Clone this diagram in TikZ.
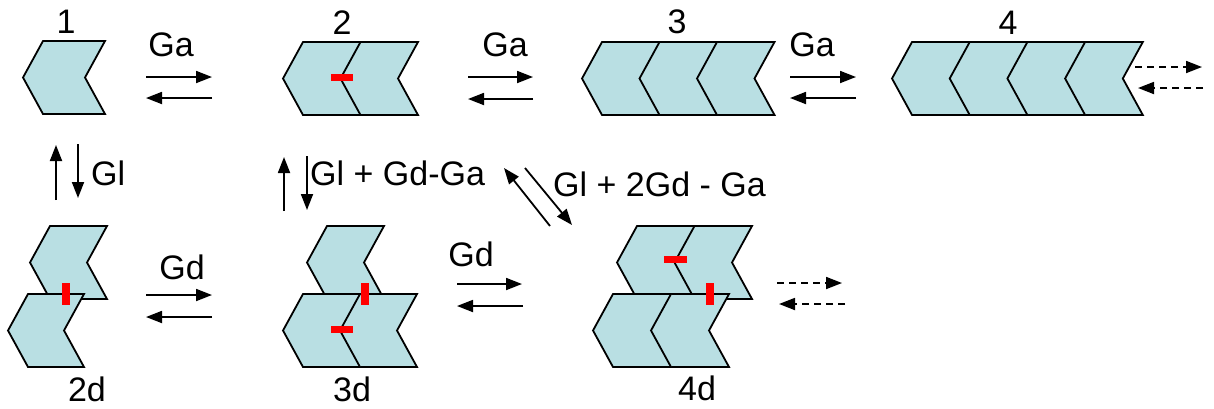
\documentclass[tikz,border=0pt]{standalone}
\usepackage{fontspec}
\setmainfont{Liberation Sans}
\usepackage{tikz}
\usetikzlibrary{arrows.meta}
\definecolor{ChevBlue}{HTML}{B9DFE3}
\definecolor{BondRed}{HTML}{FF0000}

% strip of chevrons: x of top-left corner, y of top edge, count, unit width
\newcommand{\chevstrip}[4]{%
  \filldraw[chev] (#1,#2) -- ({#1+#3*#4},#2) -- ({#1+#3*#4-20},{#2+36.5})
    -- ({#1+#3*#4},{#2+73}) -- (#1,{#2+73}) -- ({#1-20},{#2+36.5}) -- cycle;
  \ifnum#3>1
    \foreach \k in {2,...,#3}
      \draw[chev] ({#1+(\k-1)*#4},#2) -- ({#1+(\k-1)*#4-20},{#2+36.5}) -- ({#1+(\k-1)*#4},{#2+73});
  \fi}

\begin{document}
\begin{tikzpicture}[
    x=1pt, y=-1pt,
    chev/.style={draw=black, fill=ChevBlue, line width=1.8pt, line join=miter},
    bond/.style={fill=BondRed, draw=none},
    lbl/.style={inner sep=0pt, font=\fontsize{34}{38}\selectfont},
    rxn/.style={-{Triangle[length=16pt, width=12pt]}, line width=1.8pt},
    more/.style={rxn, dash pattern=on 7pt off 5pt}
]
\useasboundingbox (0,0) rectangle (1214,408);

% Top row: linear chains
\chevstrip{43}{41}{1}{62}
\chevstrip{303}{42}{2}{57.5}
\chevstrip{602}{42}{3}{57.5}
\chevstrip{912}{42}{4}{57.7}
\fill[bond] (331,74) rectangle (353,81);

\node[lbl] (n1) at (66,22) {1};
\node[lbl] (n2) at (342,23) {2};
\node[lbl] (n3) at (677,22) {3};
\node[lbl] (n4) at (1008,23) {4};

% Bottom row: stacked chains
\chevstrip{50}{226}{1}{57}
\chevstrip{28}{294}{1}{56}
\fill[bond] (62,283) rectangle (70,305);

\chevstrip{327}{226}{1}{57}
\chevstrip{303}{294}{2}{57}
\fill[bond] (361,283) rectangle (369,305);
\fill[bond] (331,326) rectangle (353,333);

\chevstrip{637}{226}{2}{57.5}
\chevstrip{613}{294}{2}{58}
\fill[bond] (664,256) rectangle (687,263);
\fill[bond] (706,283) rectangle (714,305);

\node[lbl] (n2d) at (87,389) {2d};
\node[lbl] (n3d) at (352,389) {3d};
\node[lbl] (n4d) at (697,388) {4d};

% Ga steps
\node[lbl] (ga1) at (171,45) {Ga};
\node[lbl] (ga2) at (505,45) {Ga};
\node[lbl] (ga3) at (812,45) {Ga};
\coordinate (a1l) at (146,77);  \coordinate (a1r) at (212,77);
\coordinate (b1l) at (146,98);  \coordinate (b1r) at (212,98);
\coordinate (a2l) at (468,77);  \coordinate (a2r) at (533,77);
\coordinate (b2l) at (468,99);  \coordinate (b2r) at (533,99);
\coordinate (a3l) at (790,77);  \coordinate (a3r) at (856,77);
\coordinate (b3l) at (790,98);  \coordinate (b3r) at (856,98);
\draw[rxn] (a1l) -- (a1r);
\draw[rxn] (b1r) -- (b1l);
\draw[rxn] (a2l) -- (a2r);
\draw[rxn] (b2r) -- (b2l);
\draw[rxn] (a3l) -- (a3r);
\draw[rxn] (b3r) -- (b3l);
\coordinate (a4l) at (1135,67); \coordinate (a4r) at (1202,67);
\coordinate (b4l) at (1138,88); \coordinate (b4r) at (1203,88);
\draw[more] (a4l) -- (a4r);
\draw[more] (b4r) -- (b4l);

% Gl steps
\node[lbl, anchor=west] (gl1) at (91,173) {Gl};
\node[lbl, anchor=west] (gl2) at (310,173) {Gl + Gd-Ga};
\node[lbl, anchor=west] (gl3) at (553,184) {Gl + 2Gd - Ga};
\coordinate (u1b) at (56,200);  \coordinate (u1t) at (56,145);
\coordinate (d1t) at (78,144);  \coordinate (d1b) at (78,198);
\coordinate (u2b) at (284,211); \coordinate (u2t) at (284,157);
\coordinate (d2t) at (307,156); \coordinate (d2b) at (307,210);
\coordinate (u3b) at (550,226); \coordinate (u3t) at (504,168);
\coordinate (d3t) at (525,168); \coordinate (d3b) at (572,225);
\draw[rxn] (u1b) -- (u1t);
\draw[rxn] (d1t) -- (d1b);
\draw[rxn] (u2b) -- (u2t);
\draw[rxn] (d2t) -- (d2b);
\draw[rxn] (u3b) -- (u3t);
\draw[rxn] (d3t) -- (d3b);

% Gd steps
\node[lbl] (gd1) at (182,267) {Gd};
\node[lbl] (gd2) at (471,254) {Gd};
\coordinate (e1l) at (146,295); \coordinate (e1r) at (212,295);
\coordinate (f1l) at (146,317); \coordinate (f1r) at (212,317);
\coordinate (e2l) at (457,284); \coordinate (e2r) at (522,284);
\coordinate (f2l) at (457,306); \coordinate (f2r) at (523,306);
\draw[rxn] (e1l) -- (e1r);
\draw[rxn] (f1r) -- (f1l);
\draw[rxn] (e2l) -- (e2r);
\draw[rxn] (f2r) -- (f2l);
\coordinate (e3l) at (777,283); \coordinate (e3r) at (842,283);
\coordinate (f3l) at (779,304); \coordinate (f3r) at (845,304);
\draw[more] (e3l) -- (e3r);
\draw[more] (f3r) -- (f3l);

\end{tikzpicture}
\end{document}
